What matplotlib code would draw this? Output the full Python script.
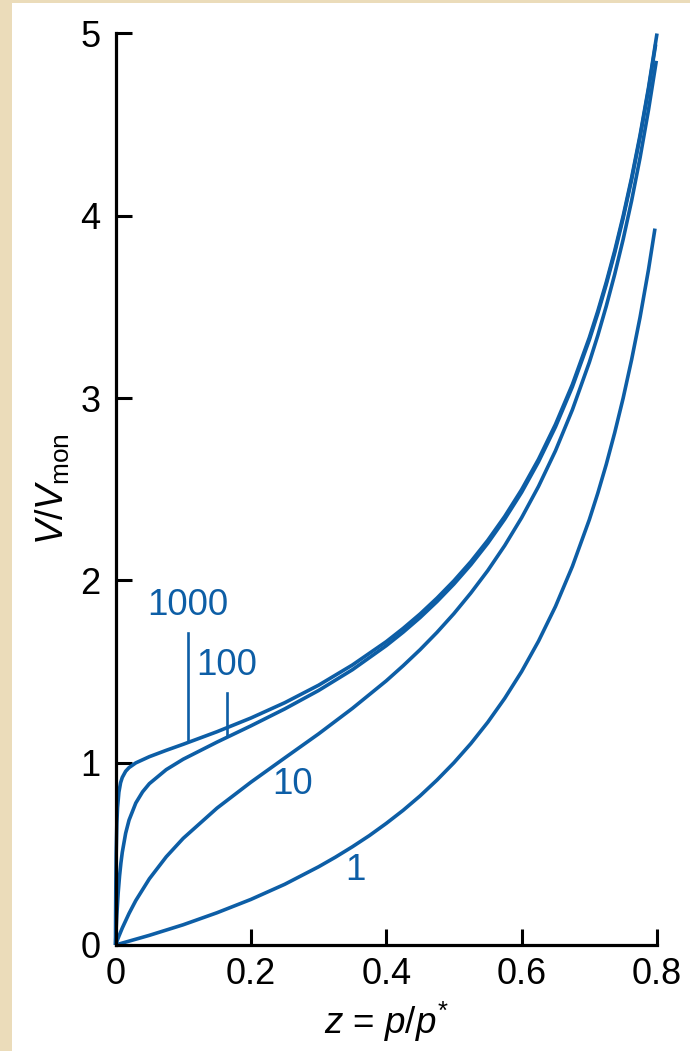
import matplotlib
matplotlib.use("Agg")
import matplotlib.pyplot as plt
from matplotlib.patches import Rectangle

# BET isotherms, one list per constant c
z_c1 = [0, 0.05, 0.1, 0.15, 0.2, 0.25, 0.3, 0.325, 0.35, 0.375, 0.4, 0.425,
        0.45, 0.475, 0.5, 0.525, 0.55, 0.575, 0.6, 0.625, 0.65, 0.675, 0.7,
        0.7125, 0.725, 0.7375, 0.75, 0.7625, 0.775, 0.7875, 0.797]
v_c1 = [0, 0.053, 0.111, 0.177, 0.25, 0.333, 0.429, 0.482, 0.539, 0.6,
        0.667, 0.739, 0.818, 0.905, 1.0, 1.105, 1.222, 1.353, 1.5, 1.667,
        1.857, 2.077, 2.333, 2.478, 2.636, 2.810, 3.0, 3.211, 3.444, 3.706,
        3.93]

z_c10 = [0, 0.005, 0.01, 0.02, 0.03, 0.05, 0.075, 0.1, 0.15, 0.2, 0.25, 0.3,
         0.35, 0.4, 0.425, 0.45, 0.475, 0.5, 0.525, 0.55, 0.575, 0.6, 0.625,
         0.65, 0.675, 0.7, 0.7125, 0.725, 0.7375, 0.75, 0.7625, 0.775, 0.7875,
         0.799]
v_c10 = [0, 0.048, 0.093, 0.173, 0.244, 0.363, 0.484, 0.585, 0.751, 0.893,
         1.026, 1.158, 1.298, 1.449, 1.532, 1.620, 1.715, 1.818, 1.931, 2.054,
         2.191, 2.344, 2.516, 2.711, 2.936, 3.196, 3.343, 3.504, 3.679, 3.871,
         4.083, 4.319, 4.582, 4.85]

z_c100 = [0, 0.001, 0.002, 0.004, 0.006, 0.008, 0.01, 0.015, 0.02, 0.03, 0.04,
          0.05, 0.075, 0.1, 0.15, 0.2, 0.25, 0.3, 0.35, 0.4, 0.425, 0.45,
          0.475, 0.5, 0.525, 0.55, 0.575, 0.6, 0.625, 0.65, 0.675, 0.7,
          0.7125, 0.725, 0.7375, 0.75, 0.7625, 0.775, 0.7875, 0.798]
v_c100 = [0, 0.091, 0.167, 0.288, 0.379, 0.450, 0.508, 0.613, 0.685, 0.779,
          0.840, 0.885, 0.962, 1.019, 1.113, 1.202, 1.295, 1.396, 1.510,
          1.642, 1.716, 1.796, 1.884, 1.980, 2.086, 2.204, 2.336, 2.483,
          2.651, 2.842, 3.062, 3.319, 3.464, 3.623, 3.796, 3.987, 4.198,
          4.432, 4.693, 4.94]

z_c1000 = [0, 0.0002, 0.0005, 0.001, 0.002, 0.003, 0.005, 0.0075, 0.01, 0.015,
           0.02, 0.03, 0.05, 0.075, 0.1, 0.15, 0.2, 0.25, 0.3, 0.35, 0.4,
           0.425, 0.45, 0.475, 0.5, 0.525, 0.55, 0.575, 0.6, 0.625, 0.65,
           0.675, 0.7, 0.7125, 0.725, 0.7375, 0.75, 0.7625, 0.775, 0.7875, 0.8]
v_c1000 = [0, 0.167, 0.334, 0.501, 0.668, 0.753, 0.838, 0.890, 0.919, 0.953,
           0.973, 0.999, 1.033, 1.068, 1.101, 1.170, 1.245, 1.329, 1.425,
           1.536, 1.664, 1.737, 1.816, 1.903, 1.998, 2.103, 2.220, 2.351,
           2.498, 2.665, 2.856, 3.075, 3.332, 3.477, 3.635, 3.808, 3.999,
           4.209, 4.443, 4.704, 5.0]

# curve labels: text, text position, leader line (x, y0, y1) or None
labels = ["1000", "100", "10", "1"]
label_xy = [(0.107, 1.865), (0.165, 1.535), (0.261, 0.878), (0.355, 0.41)]
leaders = [(0.107, 1.71, 1.12), (0.165, 1.38, 1.15), None, None]

xticks = [0, 0.2, 0.4, 0.6, 0.8]
xticklabels = ["0", "0.2", "0.4", "0.6", "0.8"]
yticks = [0, 1, 2, 3, 4, 5]

blue = "#0d5ea6"

plt.rcParams["font.family"] = ["Liberation Sans", "DejaVu Sans"]
plt.rcParams["mathtext.fontset"] = "custom"
plt.rcParams["mathtext.rm"] = "Liberation Sans"
plt.rcParams["mathtext.it"] = "Liberation Sans:italic"

fig = plt.figure(figsize=(6.9, 10.51), dpi=100, facecolor="#ebdcba")
# white page on the parchment
page = Rectangle((12 / 690, 0), 1, 1048 / 1051, transform=fig.transFigure,
                 facecolor="white", edgecolor="none", zorder=-10)
fig.add_artist(page)

ax = fig.add_axes([115.5 / 690, 106 / 1051, 541.5 / 690, 911.5 / 1051])
ax.set_facecolor("none")
ax.set_zorder(1)

for zs, vs in [(z_c1, v_c1), (z_c10, v_c10), (z_c100, v_c100), (z_c1000, v_c1000)]:
    ax.plot(zs, vs, color=blue, lw=2.6, clip_on=False, solid_capstyle="butt",
            solid_joinstyle="round")

for txt, (tx, ty), ld in zip(labels, label_xy, leaders):
    ax.text(tx, ty, txt, color=blue, fontsize=26.5, ha="center", va="center")
    if ld is not None:
        ax.plot([ld[0], ld[0]], [ld[1], ld[2]], color=blue, lw=1.9)

ax.set_xlim(0, 0.8)
ax.set_ylim(0, 5)
ax.set_xticks(xticks)
ax.set_xticklabels(xticklabels)
ax.set_yticks(yticks)
for side in ["top", "right"]:
    ax.spines[side].set_visible(False)
for side in ["left", "bottom"]:
    ax.spines[side].set_linewidth(2.3)
ax.tick_params(direction="in", length=11.5, width=2.2, labelsize=26)
ax.tick_params(axis="y", pad=11)
ax.tick_params(axis="x", pad=9)

ax.set_xlabel(r"$z$ = $p/p^{*}$", fontsize=26.5)
ax.xaxis.set_label_coords(0.5, -0.06)
ax.set_ylabel(r"$V/V_{\rm mon}$", fontsize=27)
ax.yaxis.set_label_coords(-0.08, 0.5)

fig.savefig("out.png", dpi=100, facecolor=fig.get_facecolor())
